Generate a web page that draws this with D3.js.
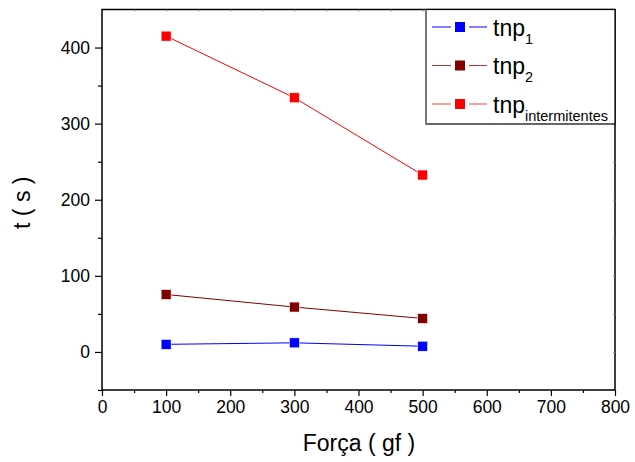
<!DOCTYPE html>
<html>
<head>
<meta charset="utf-8">
<script src="https://cdn.jsdelivr.net/npm/d3@7"></script>
<style>
html,body{margin:0;padding:0;background:#fff;}
svg{display:block;font-family:"Liberation Sans",Arial,sans-serif;}
</style>
</head>
<body>
<svg id="chart" width="635" height="462"></svg>
<script>
const forces = [100, 300, 500];
const tnp1 = [10, 12, 7.5];
const tnp2 = [75.5, 59, 44];
const tnpInter = [415, 334, 232.5];
const xTicks = [0, 100, 200, 300, 400, 500, 600, 700, 800];
const yTicks = [0, 100, 200, 300, 400];
const seriesNames = ["1", "2", "intermitentes"];
const seriesColors = ["#0000ff", "#800000", "#ff0000"];

const series = [tnp1, tnp2, tnpInter].map((vals, i) => ({
  sub: seriesNames[i], color: seriesColors[i],
  pts: forces.map((f, j) => ({x: f, y: vals[j]}))
}));

const L = 102, R = 615, T = 9.5, B = 390;
const svg = d3.select("#chart");
const x = d3.scaleLinear().domain([0, 800]).range([L, R]);
const y = d3.scaleLinear().domain([-50, 450]).range([B, T]);

// frame
svg.append("rect").attr("x", L).attr("y", T).attr("width", R - L).attr("height", B - T)
  .attr("fill", "none").attr("stroke", "#000").attr("stroke-width", 1.5);

// bottom axis
const xAx = svg.append("g").attr("transform", `translate(0,${B})`)
  .call(d3.axisBottom(x).tickValues(xTicks).tickSize(6).tickPadding(5).tickFormat(d3.format("d")));
const xMinor = svg.append("g").attr("transform", `translate(0,${B})`)
  .call(d3.axisBottom(x).tickValues(d3.range(50, 800, 100)).tickSize(3).tickFormat(""));
// left axis
const yAx = svg.append("g").attr("transform", `translate(${L},0)`)
  .call(d3.axisLeft(y).tickValues(yTicks).tickSize(7).tickPadding(5).tickFormat(d3.format("d")));
const yMinor = svg.append("g").attr("transform", `translate(${L},0)`)
  .call(d3.axisLeft(y).tickValues(d3.range(-50, 450, 100)).tickSize(4).tickFormat(""));
// top & right tiny inner ticks
const xTop = svg.append("g").attr("transform", `translate(0,${T})`)
  .call(d3.axisBottom(x).tickValues(d3.range(50, 800, 50)).tickSize(2).tickFormat(""));
const yRight = svg.append("g").attr("transform", `translate(${R},0)`)
  .call(d3.axisLeft(y).tickValues(d3.range(0, 450, 50)).tickSize(2).tickFormat(""));
xTop.selectAll("line").attr("stroke", "#888");
yRight.selectAll("line").attr("stroke", "#888");

[xAx, xMinor, yAx, yMinor, xTop, yRight].forEach(g => {
  g.select(".domain").remove();
  g.selectAll("text").attr("font-size", 17.5).attr("fill", "#000")
    .attr("font-family", "'Liberation Sans',Arial,sans-serif");
});
[xAx, xMinor, yAx, yMinor].forEach(g => g.selectAll("line").attr("stroke", "#000").attr("stroke-width", 1.2));

// axis titles
svg.append("text").attr("x", 359).attr("y", 451).attr("text-anchor", "middle")
  .attr("font-size", 23).text("Força ( gf )");
svg.append("text").attr("transform", `translate(30,${(T + B) / 2 + 3}) rotate(-90)`)
  .attr("text-anchor", "middle").attr("font-size", 23).text("t ( s )");

// series
const line = d3.line().x(d => x(d.x)).y(d => y(d.y));
series.forEach(s => {
  svg.append("path").datum(s.pts).attr("d", line).attr("fill", "none")
    .attr("stroke", s.color).attr("stroke-width", 1);
  svg.selectAll(null).data(s.pts).enter().append("rect")
    .attr("x", d => x(d.x) - 5).attr("y", d => y(d.y) - 5)
    .attr("width", 10).attr("height", 10).attr("fill", s.color)
    .attr("stroke", "#fff").attr("stroke-width", 0.6);
});

// legend
const lg = svg.append("g");
lg.append("rect").attr("x", 426).attr("y", T).attr("width", R - 426).attr("height", 124 - T)
  .attr("fill", "#fff").attr("stroke", "#000").attr("stroke-width", 1.2);
lg.append("line").attr("x1", 426).attr("x2", 426).attr("y1", T).attr("y2", 124)
  .attr("stroke", "#777").attr("stroke-width", 2);
const rowY = [27, 65.5, 104];
series.forEach((s, i) => {
  const g = lg.append("g").attr("transform", `translate(0,${rowY[i]})`);
  g.append("line").attr("x1", 432).attr("x2", 451).attr("stroke", s.color).attr("stroke-width", 1).attr("opacity", i ? 0.75 : 1);
  g.append("line").attr("x1", 469).attr("x2", 487).attr("stroke", s.color).attr("stroke-width", 1).attr("opacity", i ? 0.75 : 1);
  g.append("rect").attr("x", 455).attr("y", -5).attr("width", 10).attr("height", 10).attr("fill", s.color);
  const t = g.append("text").attr("x", 493).attr("y", 8.5).attr("font-size", 23);
  t.append("tspan").text("tnp");
  t.append("tspan").attr("font-size", 14.5).attr("dy", 8).text(s.sub);
});
</script>
</body>
</html>
